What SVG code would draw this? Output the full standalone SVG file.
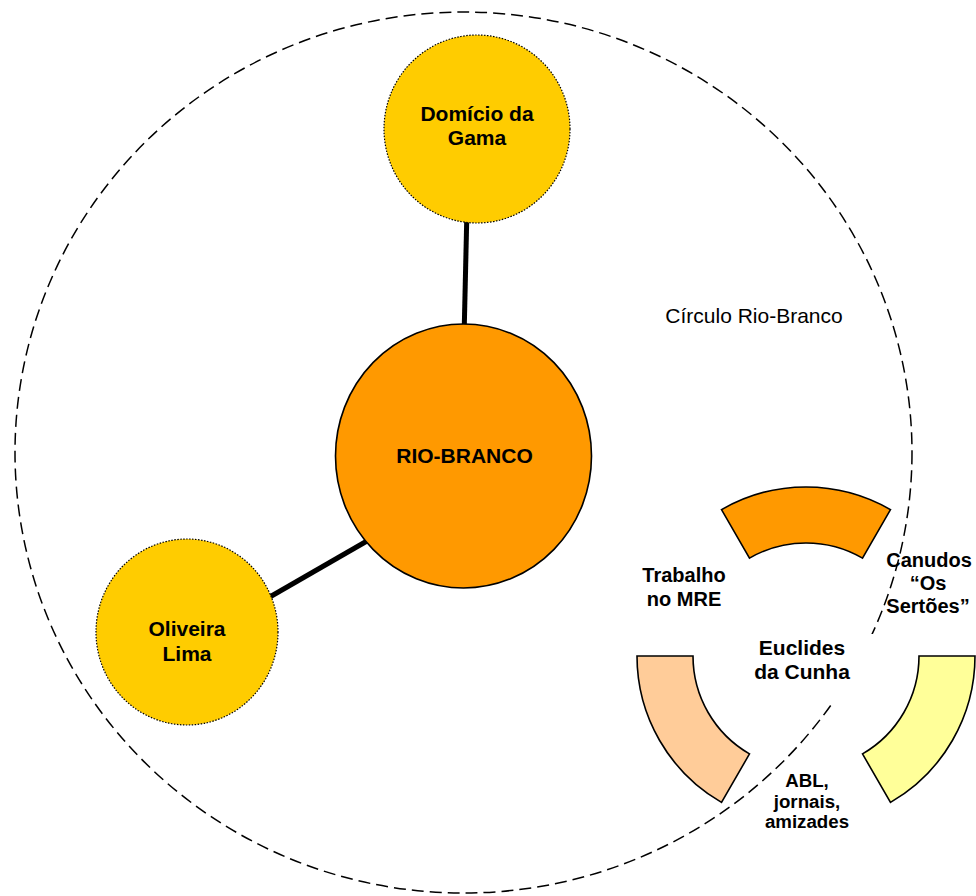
<svg xmlns="http://www.w3.org/2000/svg" width="976" height="896" viewBox="0 0 976 896">
<style>
text{font-family:"Liberation Sans",Arial,sans-serif;fill:#000;text-anchor:middle}
.b{font-weight:bold;font-size:21px}
.s{font-weight:bold;font-size:20px}
.t{font-weight:bold;font-size:18.7px}
.dot{fill:#FFCC00;stroke:#000;stroke-width:1.2;stroke-dasharray:1.5 1.5}
.seg{stroke:#000;stroke-width:1.6;stroke-linejoin:miter}
.con{stroke:#000;stroke-width:5;fill:none}
</style>
<rect width="976" height="896" fill="#fff"/>
<g id="circulo">
<ellipse cx="463.5" cy="452.5" rx="448.5" ry="440.5" fill="none" stroke="#000" stroke-width="1.5" stroke-dasharray="12 6"/>
<text x="754" y="323" style="font-size:21px">Círculo Rio-Branco</text>
</g>
<g id="connectors">
<line class="con" x1="466.7" y1="221" x2="464.3" y2="326"/>
<line class="con" x1="367" y1="541" x2="268" y2="598"/>
</g>
<g id="domicio">
<ellipse class="dot" cx="477" cy="129" rx="93" ry="94"/>
<text class="b" x="477" y="121">Domício da</text>
<text class="b" x="477" y="145">Gama</text>
</g>
<g id="oliveira">
<ellipse class="dot" cx="187" cy="632" rx="91" ry="93"/>
<text class="b" x="187" y="636">Oliveira</text>
<text class="b" x="187" y="661">Lima</text>
</g>
<g id="riobranco">
<ellipse cx="463.5" cy="456" rx="128" ry="132" fill="#FF9900" stroke="#000" stroke-width="1.6"/>
<text class="b" x="464.5" y="463">RIO-BRANCO</text>
</g>
<g id="euclides">
<path class="seg" fill="#FF9900" d="M721.5,509.6 A169,169 0 0 1 890.5,509.6 L862.5,558.1 A113,113 0 0 0 749.5,558.1 Z"/>
<path class="seg" fill="#FFFF99" d="M975,656 A169,169 0 0 1 890.5,802.4 L862.5,753.9 A113,113 0 0 0 919,656 Z"/>
<path class="seg" fill="#FFCC99" d="M721.5,802.4 A169,169 0 0 1 637,656 L693,656 A113,113 0 0 0 749.5,753.9 Z"/>
<rect x="740" y="634" width="142" height="71" fill="#fff"/>
<text class="b" x="802" y="655">Euclides</text>
<text class="b" x="802" y="679">da Cunha</text>
<text class="s" x="684" y="582">Trabalho</text>
<text class="s" x="684" y="606">no MRE</text>
<text class="s" x="929" y="567">Canudos</text>
<text class="s" x="928" y="590">“Os</text>
<text class="s" x="928" y="613">Sertões”</text>
<text class="t" x="807" y="787">ABL,</text>
<text class="t" x="807" y="808">jornais,</text>
<text class="t" x="807" y="828">amizades</text>
</g>
</svg>
